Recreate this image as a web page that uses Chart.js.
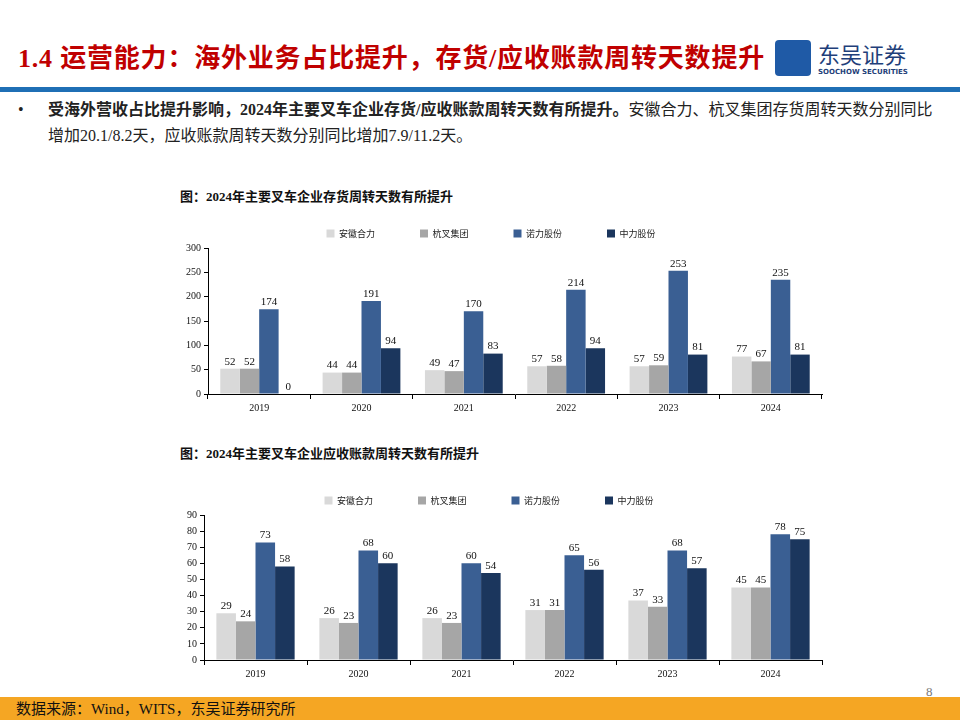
<!DOCTYPE html>
<html><head><meta charset="utf-8">
<script src="https://cdn.jsdelivr.net/npm/chart.js@4.4.0/dist/chart.umd.min.js"></script>
<style>
body{margin:0;width:960px;height:720px;position:relative;background:#fff;font-family:"Liberation Serif","Noto Sans CJK SC",serif;overflow:hidden}
.abs{position:absolute}
#head{left:18px;top:37px;font-size:26px;font-weight:bold;color:#c00000;letter-spacing:0.8px}
#rule{left:0;top:87px;width:960px;height:5px;background:#1f6fb5}
#logo{left:775px;top:40px;width:36px;height:36px;background:#1f5aa6;border-radius:4px}
#logoT{left:818px;top:37px;font-size:22px;color:#1f3f7a;font-family:"Noto Sans CJK SC",sans-serif}
#logoS{left:818px;top:68px;font-size:7px;color:#1f3f7a;font-family:"DejaVu Sans",sans-serif;font-weight:bold}
#bullet{left:48px;top:97px;width:890px;font-size:16px;line-height:26px;color:#222}
.t{font-size:13px;font-weight:bold;color:#111}
#foot{left:0;top:697px;width:960px;height:23px;background:#f5a623}
#footT{left:16px;top:697px;font-size:15px;color:#111}
#pg{left:926px;top:684px;font-size:13px;color:#777}
</style></head><body>
<div class="abs" id="head">1.4 运营能力：海外业务占比提升，存货/应收账款周转天数提升</div>
<div class="abs" id="logo"></div>
<div class="abs" id="logoT">东吴证券</div>
<div class="abs" id="logoS">SOOCHOW SECURITIES</div>
<div class="abs" id="rule"></div>
<div class="abs" id="bullet"><span style="position:absolute;left:-30px">•</span><b>受海外营收占比提升影响，2024年主要叉车企业存货/应收账款周转天数有所提升。</b>安徽合力、杭叉集团存货周转天数分别同比增加20.1/8.2天，应收账款周转天数分别同比增加7.9/11.2天。</div>
<div class="abs t" style="left:180px;top:186px">图：2024年主要叉车企业存货周转天数有所提升</div>
<div class="abs t" style="left:180px;top:443px">图：2024年主要叉车企业应收账款周转天数有所提升</div>
<div class="abs" style="left:160px;top:184px;width:672px;height:233px"><canvas id="c1"></canvas></div>
<div class="abs" style="left:156px;top:451px;width:676px;height:232px"><canvas id="c2"></canvas></div>
<div class="abs" id="pg">8</div>
<div class="abs" id="foot"></div>
<div class="abs" id="footT">数据来源：Wind，WITS，东吴证券研究所</div>
<script>
const years = ["2019","2020","2021","2022","2023","2024"];
const names = ["安徽合力","杭叉集团","诺力股份","中力股份"];
const colors = ["#d9d9d9","#a6a6a6","#3a5f93","#1b365d"];
const inventory = [
  [52,44,49,57,57,77],
  [52,44,47,58,59,67],
  [174,191,170,214,253,235],
  [0,94,83,94,81,81]
];
const receivable = [
  [29,26,26,31,37,45],
  [24,23,23,31,33,45],
  [73,68,60,65,68,78],
  [58,60,54,56,57,75]
];

const labelPlugin = {
  id: 'vals',
  afterDatasetsDraw(chart) {
    const ctx = chart.ctx;
    ctx.save();
    ctx.font = '11px "Liberation Serif"';
    ctx.fillStyle = '#111';
    ctx.textAlign = 'center';
    chart.data.datasets.forEach((ds, i) => {
      chart.getDatasetMeta(i).data.forEach((bar, j) => {
        ctx.fillText(ds.data[j], bar.x, bar.y - 7);
      });
    });
    ctx.restore();
  }
};

function make(id, series, max, step) {
  new Chart(document.getElementById(id), {
    type: 'bar',
    data: {
      labels: years,
      datasets: series.map((d, i) => ({label: names[i], data: d, backgroundColor: colors[i]}))
    },
    options: {
      responsive: true, maintainAspectRatio: false, animation: false,
      categoryPercentage: 0.76, barPercentage: 1,
      layout: {padding: {top: 0, right: 10}},
      plugins: {
        tooltip: {enabled: false},
        legend: {labels: {boxWidth: 8, boxHeight: 8, padding: 45, color: '#222',
          font: {size: 9, family: '"Noto Sans CJK SC"'}}}
      },
      scales: {
        x: {grid: {drawOnChartArea: false, color: '#000', tickLength: 5},
            border: {color: '#000'},
            ticks: {color: '#111', font: {size: 10, family: '"Liberation Serif"'}}},
        y: {min: 0, max: max, ticks: {stepSize: step, autoSkip: false, color: '#111', font: {size: 10, family: '"Liberation Serif"'}},
            grid: {drawOnChartArea: false, color: '#000', tickLength: 4},
            border: {color: '#000'},
            afterFit(s) { s.width = 48; }}
      }
    },
    plugins: [labelPlugin]
  });
}
make('c1', inventory, 300, 50);
make('c2', receivable, 90, 10);
</script>
</body></html>
